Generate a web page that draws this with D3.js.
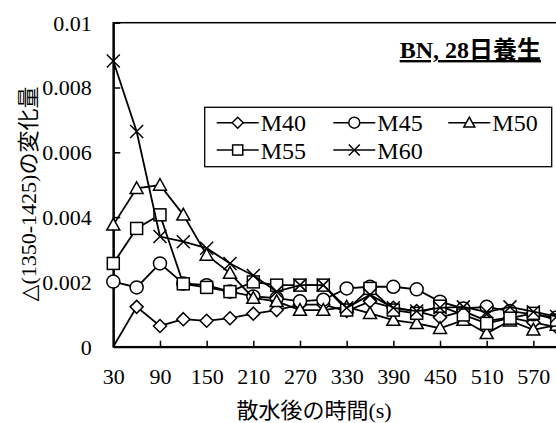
<!DOCTYPE html>
<html><head><meta charset="utf-8">
<script src="https://cdn.jsdelivr.net/npm/d3@7"></script>
<style>
body{margin:0;background:#fff;overflow:hidden} svg{display:block}
svg text{font-family:"Liberation Serif","Times New Roman","Noto Sans CJK JP",serif;}
.cjk{font-family:"Noto Sans CJK JP",sans-serif;}
.sym{font-family:"DejaVu Sans",sans-serif;}
</style>
</head><body><svg id="c" width="556" height="423"></svg>
<script>
const times = [30,60,90,120,150,180,210,240,270,300,330,360,390,420,450,480,510,540,570,600];
const seriesNames = ["M40","M45","M50","M55","M60"];
const M40 = [0,0.00123,0.00064,0.00085,0.0008,0.00088,0.00102,0.00113,0.0013,0.0013,0.0011,0.0014,0.0012,0.0011,0.0009,0.0011,0.0008,0.0009,0.00075,0.0006];
const M45 = [0.00201,0.00183,0.00257,0.00195,0.0019,0.0017,0.00155,0.0015,0.0014,0.00145,0.0018,0.00185,0.00185,0.00177,0.00139,0.00118,0.00123,0.0011,0.001,0.0009];
const M50 = [0.00376,0.00489,0.00499,0.00407,0.00283,0.00227,0.0015,0.0014,0.00113,0.00113,0.00123,0.00103,0.00082,0.00072,0.00057,0.00082,0.00041,0.0008,0.00052,0.00067];
const M55 = [0.00257,0.00365,0.00407,0.00194,0.00183,0.0017,0.0020,0.0019,0.0019,0.0019,0.00113,0.0018,0.00113,0.00103,0.00125,0.00098,0.00072,0.00088,0.00103,0.00082];
const M60 = [0.00882,0.00664,0.0034,0.00324,0.00304,0.00257,0.0022,0.0017,0.0019,0.0019,0.0012,0.0016,0.0012,0.0011,0.0012,0.00123,0.00107,0.00123,0.00108,0.00093];
const markerTypes = ["diamond","circle","triangle","square","cross"];
const xTickValues = [30,90,150,210,270,330,390,450,510,570];
const yTickValues = [0,0.002,0.004,0.006,0.008,0.01];
const yTickLabels = ["0","0.002","0.004","0.006","0.008","0.01"];
const titleText = "BN, 28日養生";
const xTitleJa = "散水後の時間";
const xTitleUnit = "(s)";
const yTitleMark = "△";
const yTitleNum = "(1350-1425)";
const yTitleJa = "の変化量";

const seriesValues = [M40,M45,M50,M55,M60];
const svg = d3.select("#c");
const x = d3.scaleLinear().domain([30,600]).range([113.3,556.7]);
const y = d3.scaleLinear().domain([0,0.01]).range([346.7,22.7]);

// frame (top and right)
svg.append("rect").attr("x",x(30)).attr("y",y(0.01)).attr("width",x(630)-x(30)).attr("height",y(0)-y(0.01))
  .attr("fill","none").attr("stroke","#000").attr("stroke-width",1.5);

// axes
const xAxis = d3.axisBottom(x).tickValues(xTickValues).tickSizeInner(-6).tickSizeOuter(0).tickPadding(22).tickFormat(d=>String(d));
const gx = svg.append("g").attr("transform",`translate(0,${y(0)})`).call(xAxis);
const yAxis = d3.axisLeft(y).tickValues(yTickValues).tickSizeInner(-7).tickSizeOuter(0).tickPadding(21.6)
  .tickFormat((d,i)=>yTickLabels[i]);
const gy = svg.append("g").attr("transform",`translate(${x(30)},0)`).call(yAxis);
[gx,gy].forEach(g=>{
  g.attr("font-family",null).attr("font-size",22);
  g.select(".domain").attr("stroke-width",2.2);
  g.selectAll(".tick line").attr("stroke-width",1.5);
  g.selectAll(".tick text").attr("fill","#000");
});
gy.selectAll(".tick text").attr("dy","0.34em");

function marker(g, type, cx, cy, s){
  const sw = 1.5;
  if(type==="diamond"){
    g.append("path").attr("d",`M${cx},${cy-s}L${cx+s},${cy}L${cx},${cy+s}L${cx-s},${cy}Z`)
      .attr("fill","#fff").attr("stroke","#000").attr("stroke-width",sw);
  } else if(type==="circle"){
    g.append("circle").attr("cx",cx).attr("cy",cy).attr("r",s)
      .attr("fill","#fff").attr("stroke","#000").attr("stroke-width",sw);
  } else if(type==="triangle"){
    g.append("path").attr("d",`M${cx},${cy-s}L${cx+s},${cy+s*0.8}L${cx-s},${cy+s*0.8}Z`)
      .attr("fill","#fff").attr("stroke","#000").attr("stroke-width",sw);
  } else if(type==="square"){
    g.append("rect").attr("x",cx-s*0.92).attr("y",cy-s*0.92).attr("width",s*1.84).attr("height",s*1.84)
      .attr("fill","#fff").attr("stroke","#000").attr("stroke-width",sw);
  } else {
    g.append("path").attr("d",`M${cx-s},${cy-s}L${cx+s},${cy+s}M${cx-s},${cy+s}L${cx+s},${cy-s}`)
      .attr("fill","none").attr("stroke","#000").attr("stroke-width",sw);
  }
}

const line = d3.line().x(d=>x(d.t)).y(d=>y(d.v));
seriesValues.forEach((vals,si)=>{
  const pts = times.map((t,i)=>({t, v: vals[i]}));
  const g = svg.append("g");
  g.append("path").attr("d",line(pts)).attr("fill","none").attr("stroke","#000").attr("stroke-width",1.8);
  // a zero point sits on the axis corner, where the reference shows no marker
  pts.filter(p=>p.v>0).forEach(p=>marker(g, markerTypes[si], x(p.t), y(p.v), 6.5));
});

// legend
const lg = svg.append("g");
lg.append("rect").attr("x",204.7).attr("y",107.3).attr("width",347).attr("height",59.4)
  .attr("fill","#fff").attr("stroke","#000").attr("stroke-width",1.3);
const colX = [216.7,333.3,448.3];
const rowY = [122.7,150];
seriesNames.forEach((name,i)=>{
  const cx0 = colX[i%3], cy0 = rowY[Math.floor(i/3)];
  lg.append("line").attr("x1",cx0).attr("x2",cx0+42).attr("y1",cy0).attr("y2",cy0).attr("stroke","#000").attr("stroke-width",1.5);
  marker(lg, markerTypes[i], cx0+21, cy0, 5.5);
  lg.append("text").attr("x",cx0+44).attr("y",cy0+8.5).attr("font-size",24).text(name);
});

// title
svg.append("text").attr("x",541).attr("y",58).attr("text-anchor","end")
  .attr("font-size",24).attr("font-weight","bold").attr("text-decoration","underline").text(titleText);

// axis titles
const xt = svg.append("text").attr("x",314).attr("y",418).attr("text-anchor","middle").attr("font-size",22);
xt.append("tspan").attr("class","cjk").text(xTitleJa);
xt.append("tspan").text(xTitleUnit);
const yt = svg.append("text").attr("transform","translate(36,194) rotate(-90)").attr("text-anchor","middle").attr("font-size",22);
yt.append("tspan").attr("class","sym").attr("fill","#000").text(yTitleMark);
yt.append("tspan").text(yTitleNum);
yt.append("tspan").attr("class","cjk").text(yTitleJa);
</script></body></html>
